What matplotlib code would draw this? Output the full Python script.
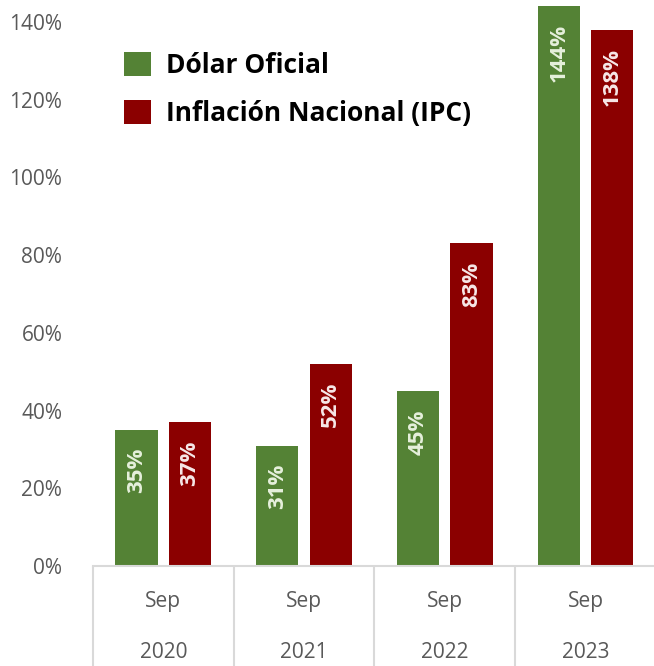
import matplotlib
matplotlib.use('Agg')
import matplotlib.pyplot as plt
import numpy as np

plt.rcParams['font.family'] = ['Open Sans', 'DejaVu Sans']

months = ['Sep', 'Sep', 'Sep', 'Sep']
years = ['2020', '2021', '2022', '2023']
dolar = [35, 31, 45, 144]
ipc = [37, 52, 83, 138]
series_names = ['Dólar Oficial', 'Inflación Nacional (IPC)']

green = '#548235'
red = '#8B0000'

fig = plt.figure(figsize=(6.54, 6.66), dpi=100)
ax = fig.add_axes([0.142, 0.15, 0.861, 0.85])

x = np.arange(len(years))
w = 0.30
off = 0.19
b1 = ax.bar(x - off, dolar, w, color=green, label=series_names[0])
b2 = ax.bar(x + off, ipc, w, color=red, label=series_names[1])

for bars, vals, tc in [(b1, dolar, '#E6F0DC'), (b2, ipc, '#F7E8E8')]:
    for r, v in zip(bars, vals):
        ax.annotate(f'{v}%', (r.get_x() + r.get_width() / 2, v),
                    xytext=(0, -13), textcoords='offset points',
                    rotation=90, ha='center', va='top',
                    color=tc, fontsize=16, fontweight='bold')

ax.set_xlim(-0.5, 3.5)
ax.set_ylim(0, 145.6)
ax.set_yticks(range(0, 141, 20))
ax.set_yticklabels([f'{t}%' for t in range(0, 141, 20)], color='#595959', fontsize=15)
ax.tick_params(axis='y', length=0, pad=22)

ax.set_xticks(x)
ax.set_xticklabels(months, color='#595959', fontsize=15)
ax.tick_params(axis='x', length=0, pad=18)

tr = ax.get_xaxis_transform()
for i, yr in enumerate(years):
    ax.text(i, -0.152, yr, transform=tr, ha='center', va='center',
            color='#595959', fontsize=15)
ax.vlines(np.arange(-0.5, 4, 1), -0.2, 0, transform=tr, colors='#d9d9d9',
          lw=1.5, clip_on=False)

for s in ['left', 'right', 'top']:
    ax.spines[s].set_visible(False)
ax.spines['bottom'].set_color('#d9d9d9')
ax.spines['bottom'].set_linewidth(1.5)

ax.legend(loc='upper left', bbox_to_anchor=(0.037, 0.927), frameon=False,
          prop={'weight': 'bold', 'size': 19}, handlelength=1.0,
          handleheight=1.0, handletextpad=0.6, labelspacing=0.8,
          borderaxespad=0)

fig.savefig('out.png', dpi=100)
